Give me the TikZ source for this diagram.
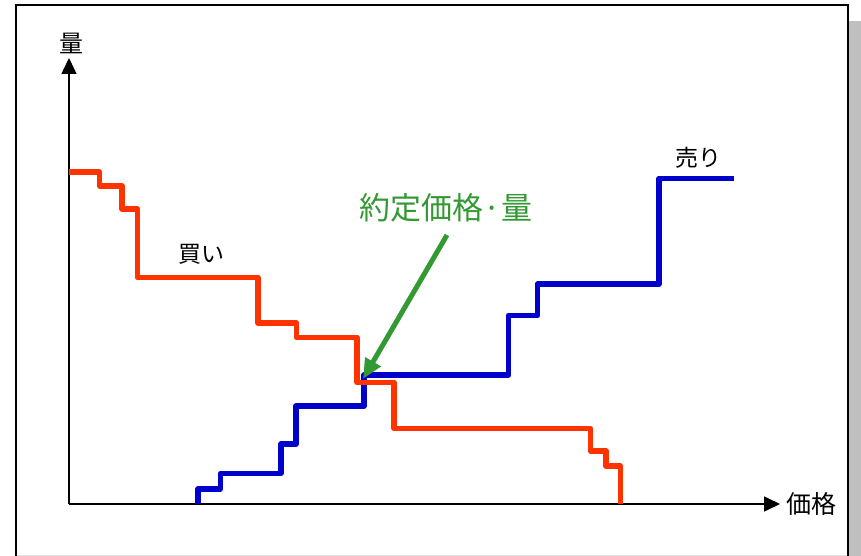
\documentclass[tikz,border=0pt]{standalone}
\usepackage{fontspec}
\newfontfamily\jp{Noto Sans CJK JP}
\usepackage{tikz}
\usetikzlibrary{arrows.meta,calc}
\usepackage{tkz-euclide}
\usepackage{xcolor}
\definecolor{BuyRed}{HTML}{FF3300}
\definecolor{SellBlue}{HTML}{0000CC}
\definecolor{MatchGreen}{HTML}{339933}
\tikzset{
  axis/.style={line width=1.5pt,-{Triangle[length=16pt,width=15pt]}},
  curve/.style={line width=5.5pt,line join=round},
  lbl/.style={inner sep=0pt,font=\jp\fontsize{23pt}{23pt}\selectfont}
}

\begin{document}
\begin{tikzpicture}[x=1pt,y=-1pt]
   \useasboundingbox (0,0) rectangle (861,556);
   % frame and shadow
   \fill[gray!50] (849,21) rectangle (861,580);
   \draw[line width=2pt] (16,5) rectangle (848,580);
   \draw[gray!20,line width=0.8pt] (17,555) -- (847,555);

   \tkzDefPoints{69/504/o,69/58/ytop,780/504/xend}
   \draw[axis] (o) -- (ytop);
   \draw[axis] (o) -- (xend);
   \node[lbl,font=\jp\fontsize{24pt}{24pt}\selectfont] (qty) at (71,43) {量};
   \node[lbl,font=\jp\fontsize{25pt}{25pt}\selectfont] (price) at (811,504) {価格};

   % sell
   \tkzDefPoints{198/504/s1,198/489/s2,220.5/489/s3,220.5/473.5/s4,281/473.5/s5,
     281/444/s6,296/444/s7,296/406/s8,364/406/s9,364/375/s10,508.5/375/s11,
     508.5/315.5/s12,537.5/315.5/s13,537.5/284/s14,659/284/s15,659/178.5/s16,734/178.5/s17}
   \draw[curve,SellBlue] (s1) -- (s2) -- (s3) -- (s4) -- (s5) -- (s6) -- (s7) -- (s8)
     -- (s9) -- (s10) -- (s11) -- (s12) -- (s13) -- (s14) -- (s15) -- (s16) -- (s17);
   \node[lbl] (sell) at (698,158) {売り};

   % buy
   \tkzDefPoints{69/172/b1,99.5/172/b2,99.5/186/b3,122/186/b4,122/209/b5,137.5/209/b6,
     137.5/277.5/b7,258/277.5/b8,258/323/b9,296.5/323/b10,296.5/337.5/b11,357/337.5/b12,
     357/382.5/b13,394/382.5/b14,394/428.5/b15,590.5/428.5/b16,590.5/451/b17,606/451/b18,
     606/466/b19,620.5/466/b20,620.5/504/b21}
   \draw[curve,BuyRed] (b1) -- (b2) -- (b3) -- (b4) -- (b5) -- (b6) -- (b7) -- (b8)
     -- (b9) -- (b10) -- (b11) -- (b12) -- (b13) -- (b14) -- (b15) -- (b16) -- (b17) -- (b18)
     -- (b19) -- (b20) -- (b21);
   \node[lbl] (buy) at (201,254) {買い};

   % match point
   \node[lbl,MatchGreen,font=\jp\fontsize{31pt}{31pt}\selectfont] (match) at (446,208) {約定価格·量};
   \coordinate (m) at (363,379);
   \draw[MatchGreen,line width=5pt,-{Triangle[length=20pt,width=17pt]}] (447,235) -- (m);
\end{tikzpicture}
\end{document}
